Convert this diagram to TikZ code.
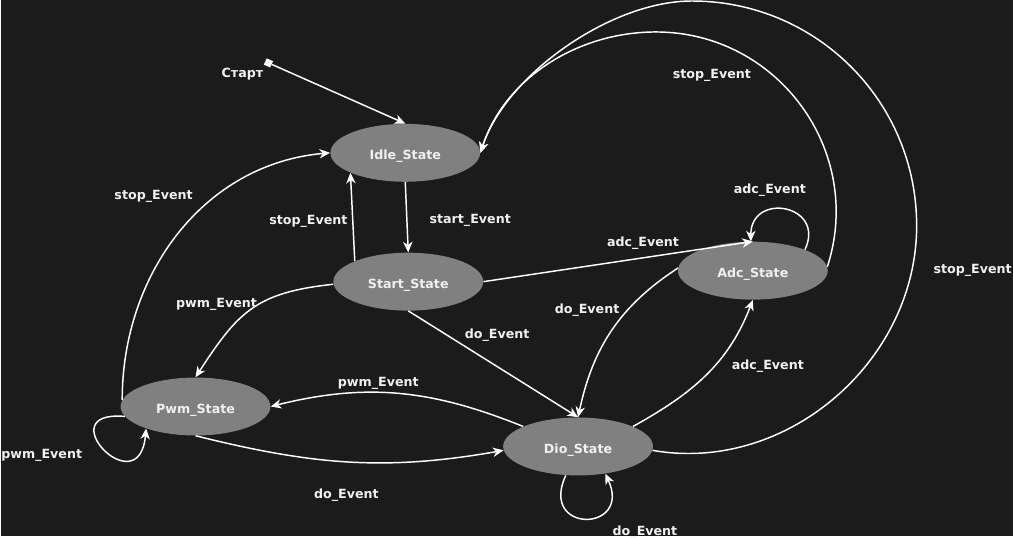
\documentclass[tikz,border=0pt]{standalone}
\usepackage{fontspec}
\setmainfont{DejaVu Sans}
\usetikzlibrary{arrows.meta, shapes.geometric}
\definecolor{bgdark}{HTML}{1B1B1B}
\definecolor{stategray}{HTML}{808080}
\definecolor{txtwhite}{HTML}{F0F0F0}

\begin{document}
\begin{tikzpicture}[
    x=0.75pt, y=0.75pt,
    statenode/.style={ellipse, fill=stategray, minimum width=112.5pt, minimum height=43.5pt,
        inner sep=0pt, text=txtwhite, text height=11pt, text depth=1pt,
        font=\fontsize{9.5}{11}\bfseries\selectfont},
    initnode/.style={rectangle, fill=white, minimum size=5.2pt, inner sep=0pt, rotate=-25},
    evlabel/.style={text=txtwhite, inner sep=1pt, text height=11pt, text depth=1pt,
        font=\fontsize{9.5}{11}\bfseries\selectfont},
    transition/.style={draw=white, line width=1.1pt, -{Stealth[length=8pt, width=7pt, inset=2.5pt]}},
]
    \fill[bgdark] (0,0) rectangle (1013,-537);

    % states
    \node[statenode] (idle)  at (405,-153) {Idle\_State};
    \node[statenode] (start) at (408,-282) {Start\_State};
    \node[statenode] (adc)   at (753,-271) {Adc\_State};
    \node[statenode] (pwm)   at (195,-407) {Pwm\_State};
    \node[statenode] (dio)   at (578,-447) {Dio\_State};
    \node[initnode]  (init)  at (268,-63)  {};
    \node[evlabel]   (initlbl) at (242,-71) {Старт};

    % transitions
    \draw[transition] (init) -- (idle.north);
    \draw[transition] (idle.south) -- (start.north);
    \draw[transition] (start.159) -- (idle.200);
    \draw[transition] (start.east) -- (adc.north);
    \draw[transition] (start.south) -- (dio.north);
    \draw[transition] (start.182) to[out=186, in=57, looseness=1.2] (pwm.north);
    \draw[transition] (pwm.175) to[out=90, in=185] (idle.west);
    \draw[transition] (adc.178) to[out=213, in=78] (dio.north);
    \draw[transition] (dio.20) to[out=29, in=249] (adc.south);
    \draw[transition] (dio.160) to[out=158, in=14] (pwm.east);
    \draw[transition] (pwm.south) to[out=-14, in=190] (dio.183);
    \draw[transition] (adc.3) to[out=72, in=0, looseness=1.07] (656,-32)
        to[out=180, in=72, looseness=0.94] (idle.east);
    \draw[transition] (dio.-3) to[out=-10, in=-90] (917,-226)
        to[out=90, in=0] (692,-1)
        to[out=180, in=72, looseness=0.8] (idle.east);

    % self loops
    \draw[transition] (pwm.188) .. controls +(175:78) and +(265:78) .. (pwm.204);
    \draw[transition] (dio.247) .. controls +(-115:65) and +(-65:65) .. (dio.-45);
    \draw[transition] (adc.22) .. controls +(65:50) and +(90:50) .. (adc.94);

    % event labels
    \node[evlabel] (lstart)   at (470,-217) {start\_Event};
    \node[evlabel] (lstopa)   at (308,-218) {stop\_Event};
    \node[evlabel] (lstopb)   at (153,-193) {stop\_Event};
    \node[evlabel] (lstopc)   at (712,-72)  {stop\_Event};
    \node[evlabel] (lstopd)   at (973,-267) {stop\_Event};
    \node[evlabel] (lpwma)    at (216,-301) {pwm\_Event};
    \node[evlabel] (lpwmb)    at (378,-380) {pwm\_Event};
    \node[evlabel] (lpwmc)    at (41,-452)  {pwm\_Event};
    \node[evlabel] (ladca)    at (643,-240) {adc\_Event};
    \node[evlabel] (ladcb)    at (768,-363) {adc\_Event};
    \node[evlabel] (ladcc)    at (770,-187) {adc\_Event};
    \node[evlabel] (ldoa)     at (497,-332) {do\_Event};
    \node[evlabel] (ldob)     at (587,-307) {do\_Event};
    \node[evlabel] (ldoc)     at (346,-492) {do\_Event};
    \node[evlabel] (ldod)     at (645,-529) {do\_Event};
\end{tikzpicture}
\end{document}
